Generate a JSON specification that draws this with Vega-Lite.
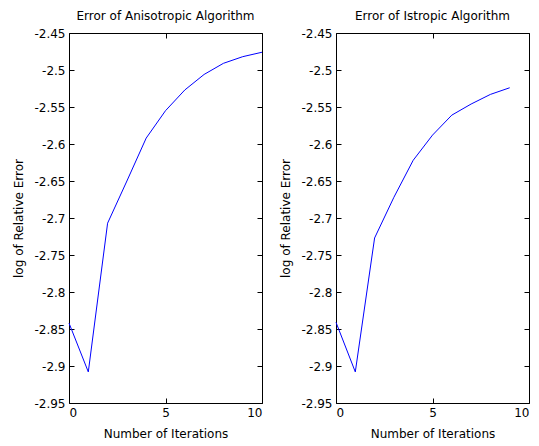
{
  "$schema": "https://vega.github.io/schema/vega-lite/v6.json",
  "background": "white",
  "padding": {"left": 12, "top": 9, "right": 5, "bottom": 5},
  "spacing": 74,
  "bounds": "flush",
  "datasets": {
    "aniso": [
      {"iter": 0, "err": -2.842},
      {"iter": 1, "err": -2.908},
      {"iter": 2, "err": -2.707},
      {"iter": 3, "err": -2.65},
      {"iter": 4, "err": -2.592},
      {"iter": 5, "err": -2.555},
      {"iter": 6, "err": -2.527},
      {"iter": 7, "err": -2.506},
      {"iter": 8, "err": -2.491},
      {"iter": 9, "err": -2.482},
      {"iter": 10, "err": -2.476}
    ],
    "iso": [
      {"iter": 0, "err": -2.841},
      {"iter": 1, "err": -2.908},
      {"iter": 2, "err": -2.727},
      {"iter": 3, "err": -2.672},
      {"iter": 4, "err": -2.622},
      {"iter": 5, "err": -2.588},
      {"iter": 6, "err": -2.561},
      {"iter": 7, "err": -2.546},
      {"iter": 8, "err": -2.533},
      {"iter": 9, "err": -2.524}
    ]
  },
  "hconcat": [
    {
      "width": 193,
      "height": 370,
      "title": {"text": "Error of Anisotropic Algorithm"},
      "data": {"name": "aniso"},
      "resolve": {"axis": {"x": "independent", "y": "independent"}},
      "layer": [
        {
          "mark": {"type": "line", "color": "#0000ff", "strokeWidth": 1},
          "encoding": {
            "x": {"field": "iter", "type": "quantitative", "scale": {"domain": [0, 10], "nice": false}, "axis": {"values": [0, 5, 10], "title": "Number of Iterations"}},
            "y": {"field": "err", "type": "quantitative", "scale": {"domain": [-2.95, -2.45], "nice": false, "zero": false}, "axis": {"values": [-2.95, -2.9, -2.85, -2.8, -2.75, -2.7, -2.65, -2.6, -2.55, -2.5, -2.45], "format": ".2~f", "labelExpr": "replace(datum.label, '\u2212', '-')", "title": "log of Relative Error"}}
          }
        },
        {
          "mark": {"type": "line", "opacity": 0},
          "encoding": {
            "x": {"field": "iter", "type": "quantitative", "axis": {"orient": "top", "values": [0, 5, 10], "labels": false, "title": null}},
            "y": {"field": "err", "type": "quantitative", "axis": {"orient": "right", "values": [-2.95, -2.9, -2.85, -2.8, -2.75, -2.7, -2.65, -2.6, -2.55, -2.5, -2.45], "labels": false, "title": null}}
          }
        }
      ]
    },
    {
      "width": 193,
      "height": 370,
      "title": {"text": "Error of Istropic Algorithm"},
      "data": {"name": "iso"},
      "resolve": {"axis": {"x": "independent", "y": "independent"}},
      "layer": [
        {
          "mark": {"type": "line", "color": "#0000ff", "strokeWidth": 1},
          "encoding": {
            "x": {"field": "iter", "type": "quantitative", "scale": {"domain": [0, 10], "nice": false}, "axis": {"values": [0, 5, 10], "title": "Number of Iterations"}},
            "y": {"field": "err", "type": "quantitative", "scale": {"domain": [-2.95, -2.45], "nice": false, "zero": false}, "axis": {"values": [-2.95, -2.9, -2.85, -2.8, -2.75, -2.7, -2.65, -2.6, -2.55, -2.5, -2.45], "format": ".2~f", "labelExpr": "replace(datum.label, '\u2212', '-')", "title": "log of Relative Error"}}
          }
        },
        {
          "mark": {"type": "line", "opacity": 0},
          "encoding": {
            "x": {"field": "iter", "type": "quantitative", "axis": {"orient": "top", "values": [0, 5, 10], "labels": false, "title": null}},
            "y": {"field": "err", "type": "quantitative", "axis": {"orient": "right", "values": [-2.95, -2.9, -2.85, -2.8, -2.75, -2.7, -2.65, -2.6, -2.55, -2.5, -2.45], "labels": false, "title": null}}
          }
        }
      ]
    }
  ],
  "config": {
    "font": "DejaVu Sans",
    "view": {"stroke": "black", "strokeWidth": 1},
    "axis": {
      "domain": false,
      "grid": false,
      "ticks": true,
      "tickSize": -5,
      "tickColor": "black",
      "labelColor": "black",
      "labelFont": "DejaVu Sans",
      "labelFontSize": 12,
      "labelPadding": 9,
      "titleFont": "DejaVu Sans",
      "titleFontSize": 12,
      "titleFontWeight": "normal",
      "titleColor": "black"
    },
    "axisY": {"titlePadding": 8},
    "axisX": {"titlePadding": 10},
    "title": {"font": "DejaVu Sans", "fontSize": 12, "fontWeight": "normal", "color": "black", "offset": 4, "anchor": "middle"}
  }
}
